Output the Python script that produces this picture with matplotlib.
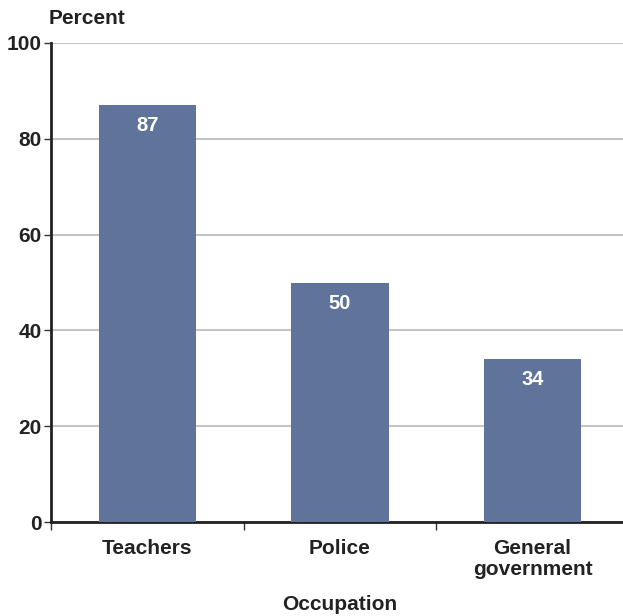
import matplotlib
matplotlib.use("Agg")
import matplotlib.pyplot as plt

categories = ["Teachers", "Police", "General\ngovernment"]
values = [87, 50, 34]
yticks = [0, 20, 40, 60, 80, 100]

plt.rcParams['font.family'] = ['Liberation Sans', 'DejaVu Sans']
plt.rcParams['font.weight'] = 'bold'

fig = plt.figure(figsize=(6.23, 6.16), dpi=100)
ax = fig.add_axes([51.25/623, 1-522/616, 577.5/623, 479/616])

x = list(range(len(categories)))
ax.bar(x, values, width=0.505, color="#60749b", zorder=3)
for xi, v in zip(x, values):
    ax.annotate(f"{v}", (xi, v), xytext=(0, -8), textcoords="offset points",
                ha="center", va="top", color="white", fontsize=14.5, fontweight="bold", zorder=4)

ax.set_xlim(-0.5, 2.5)
ax.set_ylim(0, 100)
ax.set_yticks(yticks)
ax.set_yticklabels([str(t) for t in yticks], fontsize=15, fontweight="bold", color="#222222")
ax.yaxis.grid(True, color="#c4c4c4", linewidth=1.5, zorder=0)
ax.set_axisbelow(True)

ax.set_xticks(x)
ax.set_xticklabels(categories, fontsize=15, fontweight="bold", color="#222222", linespacing=1.15)
ax.tick_params(axis="x", length=0, pad=12)
ax.set_xticks([-0.5, 0.5, 1.5], minor=True)
ax.tick_params(axis="x", which="minor", length=6, width=1, color="#333333")
ax.tick_params(axis="y", length=5, width=1, color="#333333", pad=2)

for s in ["top", "right"]:
    ax.spines[s].set_visible(False)
ax.spines["left"].set_linewidth(2)
ax.spines["bottom"].set_linewidth(2)
ax.spines["left"].set_color("#222222")
ax.spines["bottom"].set_color("#222222")

fig.text(49/623, 1-18/616, "Percent", fontsize=15, fontweight="bold", va="center", ha="left", color="#222222")
fig.text(339.5/623, 1-604/616, "Occupation", fontsize=15, fontweight="bold", va="center", ha="center", color="#222222")

fig.savefig("out.png", dpi=100)
